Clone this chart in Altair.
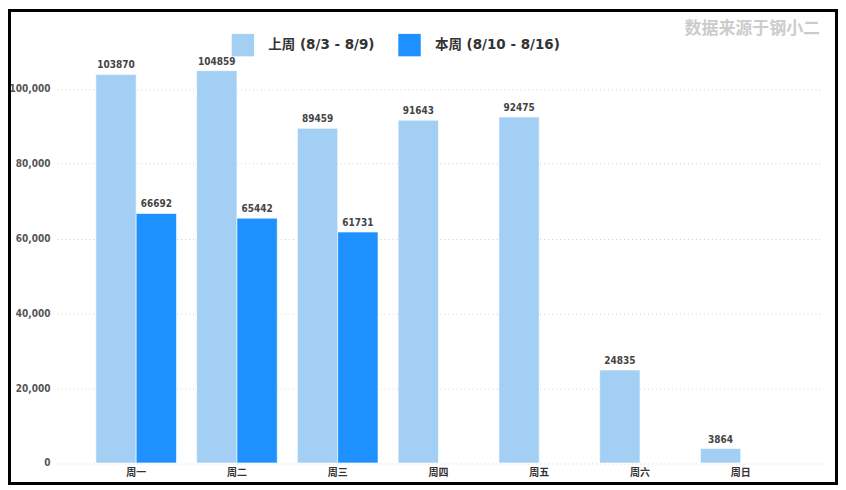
import altair as alt
import pandas as pd

days = ["周一", "周二", "周三", "周四", "周五", "周六", "周日"]
series_names = ["上周 (8/3 - 8/9)", "本周 (8/10 - 8/16)"]
last_week = [103870, 104859, 89459, 91643, 92475, 24835, 3864]
this_week = [66692, 65442, 61731, None, None, None, None]
colors = ["#A3CFF4", "#1E90FF"]
y_ticks = [0, 20000, 40000, 60000, 80000, 100000]
source_note = "数据来源于钢小二"

rows = []
for d, a, b in zip(days, last_week, this_week):
    rows.append({"day": d, "series": series_names[0], "value": a})
    rows.append({"day": d, "series": series_names[1], "value": b})
df = pd.DataFrame(rows)

W = 765
H = 412.5
CJK = "Noto Sans CJK SC"
NUM = "DejaVu Sans Condensed, DejaVu Sans"

x_enc = alt.X("day:N", sort=days, title=None,
              scale=alt.Scale(paddingInner=0.2, paddingOuter=0.387),
              axis=alt.Axis(labelAngle=0, labelFont=CJK, labelFontSize=10,
                            labelFontWeight="bold", labelColor="#333",
                            labelPadding=5, ticks=False, domain=False, grid=False))
xoff = alt.XOffset("series:N", sort=series_names,
                   scale=alt.Scale(paddingInner=0, paddingOuter=0))
y_enc = alt.Y("value:Q", title=None,
              scale=alt.Scale(domain=[0, 110000], nice=False),
              axis=alt.Axis(values=y_ticks, format=",.0f", labelFont=NUM,
                            labelFontSize=10, labelFontWeight="bold",
                            labelColor="#555", labelPadding=7, ticks=False,
                            domain=False, grid=True, gridColor="#d0d0d0",
                            gridDash=[1, 3], gridWidth=1))

base = alt.Chart(df)

bars = base.mark_bar(stroke="white", strokeWidth=0.6).encode(
    x=x_enc, xOffset=xoff, y=y_enc,
    color=alt.Color("series:N", sort=series_names,
                    scale=alt.Scale(domain=series_names, range=colors),
                    legend=alt.Legend(orient="none", legendX=175, legendY=-18,
                                      direction="horizontal", title=None,
                                      symbolType="square", symbolSize=506,
                                      symbolStrokeWidth=0, symbolOpacity=1,
                                      labelFont="DejaVu Sans, " + CJK, labelFontSize=13.5,
                                      labelFontWeight="bold", labelColor="#333",
                                      labelOffset=14, columnPadding=23, padding=0)),
)

labels = base.transform_filter("isValid(datum.value)").mark_text(
    baseline="bottom", dy=-4, font=NUM, fontSize=10, fontWeight="bold",
    color="#444"
).encode(x=x_enc, xOffset=xoff, y=y_enc, text=alt.Text("value:Q", format="d"))

note = alt.Chart(pd.DataFrame({"t": [source_note]})).mark_text(
    align="right", baseline="middle", font=CJK, fontSize=17, fontWeight="bold",
    color="#cccccc"
).encode(x=alt.value(W), y=alt.value(-23), text="t:N")

frame = alt.Chart(pd.DataFrame({"k": [0]})).mark_rect(
    fill=None, stroke="black", strokeWidth=3
).encode(x=alt.value(-47.5), x2=alt.value(W + 16.5),
         y=alt.value(-41), y2=alt.value(H + 20.5))

chart = alt.layer(bars, labels, note, frame).properties(
    width=W, height=H, padding=0, background="white",
).configure_view(strokeWidth=0, stroke="transparent")

chart.save("out.html", embed_options={"renderer": "svg", "actions": False})
